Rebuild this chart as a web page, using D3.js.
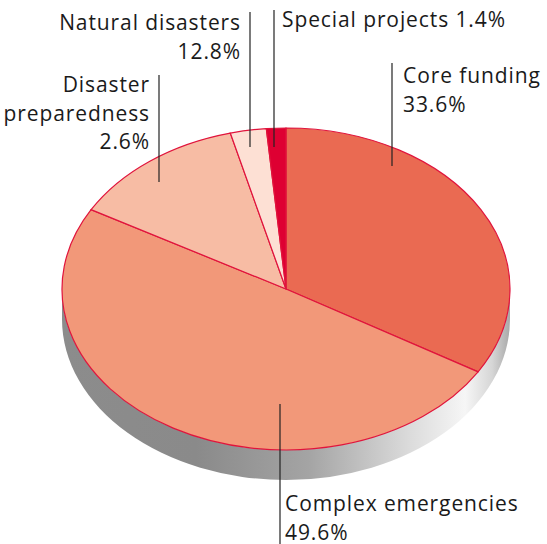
<!DOCTYPE html>
<html>
<head>
<meta charset="utf-8">
<script src="https://cdn.jsdelivr.net/npm/d3@7"></script>
<style>
  html, body { margin: 0; padding: 0; background: #fff; }
  svg { display: block; }
  text { font-family: "Open Sans", Lato, sans-serif; font-size: 21px; fill: #1a1a1a; letter-spacing: 0.9px; }
</style>
</head>
<body>
<script>
// Funding shares, clockwise from 12 o'clock
const categories = ["Core funding", "Complex emergencies", "Natural disasters", "Disaster preparedness", "Special projects"];
const shares = [33.6, 49.6, 12.8, 2.6, 1.4];
const valueLabels = ["33.6%", "49.6%", "12.8%", "2.6%", "1.4%"];
const sliceColors = ["#EA6A52", "#F29879", "#F7BCA4", "#FDE0D4", "#DE0032"];

const W = 547, H = 544;
const cx = 286, cy = 289, rx = 224, ry = 161, depth = 30;

const svg = d3.select("body").append("svg").attr("width", W).attr("height", H);

// Grey shading for the rim of the disc
const defs = svg.append("defs");
const grad = defs.append("linearGradient").attr("id", "rim")
  .attr("x1", "0%").attr("y1", "0%").attr("x2", "100%").attr("y2", "0%");
[[0, "#8c8c8c"], [0.3, "#8a8a8a"], [0.55, "#a4a4a4"], [0.78, "#dcdcdc"], [0.9, "#f6f6f6"], [0.96, "#d6d6d6"], [1, "#a8a8a8"]]
  .forEach(([o, c]) => grad.append("stop").attr("offset", o).attr("stop-color", c));

// Rim: lower half of the ellipse extruded downward
const rimPath = `M${cx - rx},${cy}` +
  `A${rx},${ry} 0 0 0 ${cx + rx},${cy}` +
  `L${cx + rx},${cy + depth}` +
  `A${rx},${ry} 0 0 1 ${cx - rx},${cy + depth}Z`;
svg.append("path").attr("d", rimPath).attr("fill", "url(#rim)");

// Top face: circular pie squashed into an ellipse
const pie = d3.pie().sort(null).value(d => d.value).startAngle(0).endAngle(2 * Math.PI);
const arc = d3.arc().innerRadius(0).outerRadius(rx);
const pieData = categories.map((c, i) => ({ name: c, value: shares[i], color: sliceColors[i] }));

const face = svg.append("g").attr("transform", `translate(${cx},${cy}) scale(1,${ry / rx})`);
face.selectAll("path").data(pie(pieData)).join("path")
  .attr("d", arc)
  .attr("fill", d => d.data.color)
  .attr("stroke", "#E0143C")
  .attr("stroke-width", 1.2)
  .attr("vector-effect", "non-scaling-stroke");

// Labels with vertical leader lines
const labels = [
  { lines: ["Core funding", valueLabels[0]], x: 403, y: 83, anchor: "start", lx: 392, ly1: 63, ly2: 166 },
  { lines: ["Complex emergencies", valueLabels[1]], x: 285, y: 511, anchor: "start", lx: 280, ly1: 404, ly2: 544 },
  { lines: ["Natural disasters", valueLabels[2]], x: 241, y: 30, anchor: "end", lx: 250, ly1: 12, ly2: 147 },
  { lines: ["Disaster", "preparedness", valueLabels[3]], x: 150, y: 92, anchor: "end", lx: 159, ly1: 75, ly2: 182 },
  { lines: ["Special projects " + valueLabels[4]], x: 282, y: 27, anchor: "start", lx: 274, ly1: 10, ly2: 147 }
];

const lg = svg.append("g");
labels.forEach(l => {
  lg.append("line")
    .attr("x1", l.lx).attr("x2", l.lx).attr("y1", l.ly1).attr("y2", l.ly2)
    .attr("stroke", "#222").attr("stroke-width", 1.2);
  const t = lg.append("text").attr("x", l.x).attr("y", l.y).attr("text-anchor", l.anchor);
  l.lines.forEach((s, k) => {
    t.append("tspan").attr("x", l.x).attr("dy", k === 0 ? 0 : 28.5).text(s);
  });
});
</script>
</body>
</html>
